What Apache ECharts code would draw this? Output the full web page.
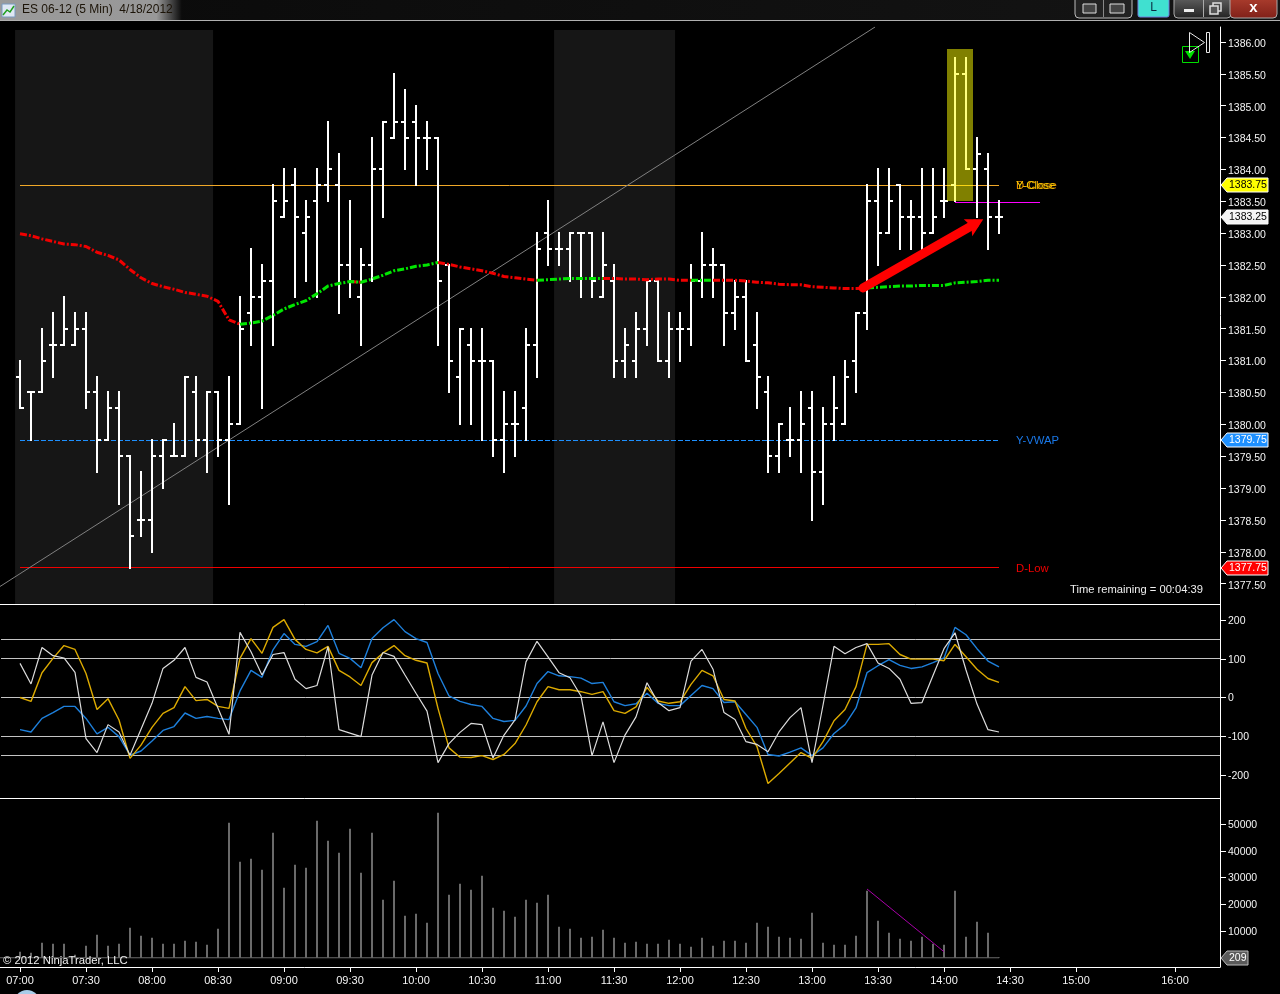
<!DOCTYPE html>
<html>
<head>
<meta charset="utf-8">
<style>html,body{margin:0;padding:0;background:#000;}#c{width:1280px;height:994px;}</style>
<script src="https://cdn.jsdelivr.net/npm/echarts@6/dist/echarts.min.js"></script>
</head>
<body>
<div id="c"></div>
<script>
const opens=[1380.75,1380.5,1380.5,1381.25,1381.25,1381.25,1381.5,1380.5,1379.75,1380.25,
1379.5,1378.5,1378.5,1379.5,1379.5,1379.5,1380.5,1379.75,1380.5,1379.75,
1380,1381.75,1382,1382.25,1383.25,1383.75,1383,1383.5,1383.75,1383.75,
1382.5,1382,1382.5,1384,1384.5,1384.75,1384.75,1384.5,1384.5,1382.5,
1380.75,1381.25,1381,1381,1379.75,1380,1380.25,1381.25,1383,1382.75,
1382.75,1383,1383,1382,1382.25,1381,1381,1381.5,1382.25,1381,
1381.5,1381.5,1382.25,1382.5,1382.5,1381.75,1382,1381.25,1380.5,1379.5,
1379.75,1379.75,1380.25,1379.25,1380,1380,1381,1381.75,1383.5,1383,
1383.75,1383.25,1383.25,1383,1383.5,1383.75,1385.5,1384,1384,1383.25];
const highs=[1381,1380.5,1381.5,1381.75,1382,1381.75,1381.75,1380.75,1380.5,1380.5,
1379.5,1379.25,1379.75,1379.75,1380,1380.75,1380.75,1380.5,1380.5,1380.75,
1382,1382.75,1382.5,1383.75,1384,1384,1383.5,1384,1384.75,1384.25,
1383.5,1382.75,1384.5,1384.75,1385.5,1385.25,1385,1384.75,1384.5,1382.5,
1381.5,1381.5,1381.5,1381,1380.5,1380.5,1381.5,1383,1383.5,1383,
1383,1383,1383,1383,1382.5,1381.5,1381.75,1382.25,1382.25,1381.75,
1381.75,1382.5,1383,1382.75,1382.5,1382.25,1382.25,1381.75,1380.75,1380,
1380.25,1380.5,1380.5,1380.25,1380.75,1381,1381.75,1383.75,1384,1384,
1383.75,1383.5,1384,1384,1384,1385.75,1385.75,1384.5,1384.25,1383.5];
const lows=[1380.25,1379.75,1380.5,1380.75,1381.25,1381.25,1380.25,1379.25,1379.75,1378.75,
1377.75,1378.25,1378,1379,1379.5,1379.5,1379.5,1379.25,1379.5,1378.75,
1380,1381.25,1380.25,1381.25,1383.25,1382,1382.25,1382,1383.5,1381.75,
1382,1381.25,1382.25,1383.25,1384.5,1384,1383.75,1384,1381.25,1380.5,
1380,1380,1379.75,1379.5,1379.25,1379.5,1379.75,1380.75,1382.5,1382.5,
1382.25,1382,1382,1382,1380.75,1380.75,1380.75,1381.25,1381,1380.75,
1381,1381.25,1382,1382,1381.25,1381.5,1381,1380.25,1379.25,1379.25,
1379.5,1379.25,1378.5,1378.75,1379.75,1380,1380.5,1381.5,1382.5,1383,
1382.75,1382.75,1382.75,1383,1383.25,1383.5,1384,1383.25,1382.75,1383];
const closes=[1380.25,1380.5,1381,1381.25,1381.5,1381.5,1380.5,1379.75,1380.25,1379.5,
1378.25,1378.5,1379.5,1379.75,1379.5,1380.75,1379.75,1380.5,1379.75,1380,
1381.5,1382,1382.25,1383.5,1383.5,1383.25,1383.25,1383.75,1384,1382.5,
1382.25,1382.5,1384,1384.75,1384.75,1384.5,1384.5,1384.5,1382.25,1381,
1381.5,1381,1381,1379.75,1380,1380,1381.25,1382.75,1382.75,1382.75,
1383,1383,1382.25,1382.5,1381,1381.25,1381.5,1382.25,1381,1381.5,
1381.5,1382.25,1382.5,1382.5,1381.75,1382,1381,1380.75,1379.5,1380,
1379.75,1380,1379.25,1380,1380.25,1380.75,1381.75,1383.5,1383,1383.5,
1383.25,1383.25,1383,1383.25,1383.5,1385.5,1384,1384.25,1383.25,1383.25];
const maValues=[1382.99,1382.96,1382.91,1382.87,1382.83,1382.82,1382.79,1382.70,1382.65,1382.58,
1382.43,1382.30,1382.21,1382.16,1382.12,1382.07,1382.04,1382.01,1381.93,1381.64,
1381.57,1381.59,1381.62,1381.71,1381.81,1381.88,1381.94,1382.05,1382.17,1382.21,
1382.24,1382.23,1382.28,1382.34,1382.41,1382.44,1382.48,1382.50,1382.54,1382.51,
1382.47,1382.44,1382.41,1382.37,1382.32,1382.30,1382.28,1382.26,1382.27,1382.28,
1382.29,1382.29,1382.29,1382.29,1382.29,1382.28,1382.28,1382.27,1382.28,1382.28,
1382.26,1382.26,1382.26,1382.26,1382.26,1382.26,1382.25,1382.23,1382.22,1382.20,
1382.19,1382.19,1382.16,1382.15,1382.14,1382.13,1382.13,1382.14,1382.15,1382.16,
1382.17,1382.17,1382.18,1382.18,1382.18,1382.22,1382.23,1382.24,1382.26,1382.26];
const maRedSpans=[[0,20],[30,31],[38,47],[53,61],[63,77]];
const maGreenSpans=[[20,30],[31,38],[47,53],[61,63],[77,89]];
const cciWhite=[88,35,129,108,102,65,-106,-142,-70,-89,
-149,-82,-15,75,96,129,52,40,-28,-95,
168,118,58,111,116,47,23,31,131,-83,
-92,-101,58,116,106,58,11,-35,-168,-119,
-90,-67,-70,-156,-97,-58,92,145,105,64,
51,4,-150,-63,-168,-97,-50,38,-13,-34,
-26,94,124,73,-39,-57,-114,-121,-140,-89,
-52,-26,-168,-20,132,113,129,139,89,75,
47,-15,-13,57,126,167,71,-17,-83,-89];
const cciYellow=[0,-10,64,101,134,124,62,-31,-3,-58,
-157,-123,-77,-41,-26,28,-8,-5,-23,-28,
101,152,114,181,201,150,124,115,132,70,
53,31,90,115,134,108,96,89,-28,-130,
-154,-155,-150,-160,-147,-119,-71,-11,28,20,
20,15,8,15,-34,-41,-24,26,-9,-15,
-11,34,70,56,-5,-9,-80,-127,-222,-196,
-169,-142,-157,-114,-60,-31,28,137,137,139,
111,99,99,99,95,137,105,73,49,39];
const cciBlue=[-83,-89,-54,-39,-23,-23,-54,-94,-77,-101,
-149,-138,-112,-85,-75,-40,-54,-49,-54,-57,
17,70,52,123,165,137,132,144,186,114,
101,77,152,180,201,170,152,142,62,4,
-10,-18,-23,-54,-62,-59,-22,36,67,56,
54,50,36,39,-11,-21,-16,11,-15,-21,
-21,5,31,23,-13,-11,-44,-77,-147,-151,
-141,-130,-150,-130,-93,-70,-27,64,82,98,
83,75,79,90,102,181,162,126,94,79];
const volumes=[2240,1870,5600,5230,5230,1120,4490,8600,4490,5230,
11200,8220,7480,5230,5230,6350,5980,4860,10840,50460,
35880,37000,32900,46725,26170,34760,33640,51200,43730,39250,
48220,31770,46725,21680,28780,15700,16450,13080,54200,23550,
27660,25420,30650,18690,17570,15330,21680,20560,23550,11590,
10840,7480,7850,10470,7480,5610,5980,5230,5230,6730,
5230,4110,7480,4490,6350,6350,5610,13080,11590,7850,
7480,7100,16820,5610,4860,4860,8220,25040,13830,9345,
7100,6350,7850,5230,4860,25040,7850,13460,9345,209];

const timeTicks=[0,6,12,18,24,30,36,42,48,54,60,66,72,78,84,90,96,105];
const timeLabels=['07:00','07:30','08:00','08:30','09:00','09:30','10:00','10:30','11:00','11:30','12:00','12:30','13:00','13:30','14:00','14:30','15:00','16:00'];
const priceTicks=[1377.5,1378,1378.5,1379,1379.5,1380,1380.5,1381,1381.5,1382,1382.5,1383,1383.5,1384,1384.5,1385,1385.5,1386];
const cciTicks=[-200,-100,0,100,200];
const volumeTicks=[10000,20000,30000,40000,50000];
const cciLevels=[150,100,0,-100,-150];

const shadeStart=[-0.45,48.55];
const shadeEnd=[17.55,59.55];
const levelRows=[
  [0,89,1383.75,'#f0a828',0],
  [0,89,1379.75,'#1e90ff',1],
  [0,89,1377.75,'#f00000',0],
  [85,92.73,1383.48,'#ff00ff',0]
];
const levelLabels=[
  [1383.75,'D-Close','#e89000'],
  [1383.75,'Y-Close','#ffd000'],
  [1379.75,'Y-VWAP','#1a78e8'],
  [1377.75,'D-Low','#f00000']
];
const priceFlags=[
  [1383.75,'1383.75','#ffff00','#000'],
  [1383.25,'1383.25','#f4f4f4','#000'],
  [1379.75,'1379.75','#1e90ff','#fff'],
  [1377.75,'1377.75','#ff0000','#fff']
];
const trendLine=[[-1.818,1377.455],[77.73,1386.235]];
const arrowFrom=[76.64,1382.14];
const arrowTo=[87.57,1383.22];
const highlightBox=[84.27,1385.89,86.64,1383.5];
const volumeSlope=[[77,25700],[84,2260]];

const TICKFONT='10.5px "Liberation Sans", Arial, sans-serif';
const X0=-20/11, X1=1200/11;
const spanSeries=(spans)=>maValues.map((v,i)=>[i,spans.some(s=>i>=s[0]&&i<=s[1])?v:null]);

function ohlcItem(p,api){
  const i=api.value(0);
  const c=api.coord([i,api.value(2)]), lo=api.coord([i,api.value(3)]);
  const o=api.coord([i,api.value(1)]), cl=api.coord([i,api.value(4)]);
  const x=Math.round(c[0]);
  const st={fill:'#fff'};
  const top=Math.round(c[1])-1, bot=Math.round(lo[1])+1;
  return {type:'group',children:[
    {type:'rect',shape:{x:x-1,y:top,width:2,height:bot-top},style:st},
    {type:'rect',shape:{x:x-4,y:Math.round(o[1])-1,width:3,height:2},style:st},
    {type:'rect',shape:{x:x+1,y:Math.round(cl[1])-1,width:3,height:2},style:st}
  ]};
}
function hLineItem(p,api){
  const row=levelRows[p.dataIndex];
  const a=api.coord([row[0],row[2]]), b=api.coord([row[1],row[2]]);
  const y=Math.floor(a[1])+0.5;
  return {type:'line',shape:{x1:a[0],y1:y,x2:b[0],y2:y},
    style:{stroke:row[3],lineWidth:1,lineDash:row[4]?[5,2]:null}};
}
function cciLineItem(p,api){
  const a=api.coord([X0,api.value(0)]);
  const y=Math.floor(a[1])+0.5;
  return {type:'line',shape:{x1:1,y1:y,x2:p.coordSys.x+p.coordSys.width,y2:y},style:{stroke:'#c4c4c4',lineWidth:1}};
}
function flagItem(p,api,rows){
  const row=rows[p.dataIndex];
  const y=Math.round(api.coord([0,row[0]])[1]);
  const x=p.coordSys.x+p.coordSys.width+1;
  const w=row[4]||47;
  return {type:'group',children:[
    {type:'polygon',shape:{points:[[x,y],[x+6,y-7],[x+w,y-7],[x+w,y+7],[x+6,y+7]]},style:{fill:row[2],stroke:row[5]||'#fff',lineWidth:1}},
    {type:'text',style:{x:x+8,y:y+0.5,text:row[1],fill:row[3],font:TICKFONT,textVerticalAlign:'middle',textAlign:'left'}}
  ]};
}

const option={
  backgroundColor:'#000',
  animation:false,
  grid:[
    {left:0,width:1220,top:27,height:577},
    {left:0,width:1220,top:604,height:194},
    {left:0,width:1220,top:798,height:169}
  ],
  xAxis:[0,1,2].map(g=>({
    type:'value',gridIndex:g,min:X0,max:X1,position:'bottom',
    axisLine:{show:true,onZero:false,lineStyle:{color:'#fff',width:1}},
    splitLine:{show:false},
    axisTick:g===2?{show:true,length:5,inside:false,customValues:timeTicks,lineStyle:{color:'#fff'}}:{show:false},
    axisLabel:g===2?{show:true,customValues:timeTicks,margin:8,color:'#f4f4f4',fontSize:11,fontFamily:'Liberation Sans',
      formatter:v=>timeLabels[timeTicks.indexOf(v)]}:{show:false}
  })),
  yAxis:[
    {min:1386-(604-42)/63.72,max:1386+(42-27)/63.72,ticks:priceTicks,fmt:v=>v.toFixed(2),lh:4},
    {min:-(798-697.5)/0.3875,max:(697.5-604)/0.3875,ticks:cciTicks,fmt:v=>String(v),lh:2},
    {min:-(967-957.75)/0.002675,max:(957.75-798)/0.002675,ticks:volumeTicks,fmt:v=>String(v),lh:2}
  ].map((a,g)=>({
    type:'value',gridIndex:g,position:'right',min:a.min,max:a.max,scale:true,
    axisLine:{show:true,onZero:false,lineStyle:{color:'#fff',width:1}},
    splitLine:{show:false},
    axisTick:{show:true,length:6,customValues:a.ticks,lineStyle:{color:'#fff'}},
    axisLabel:{show:true,customValues:a.ticks,margin:8,color:'#f4f4f4',fontSize:10.5,fontFamily:'Liberation Sans',align:'left',verticalAlign:'top',lineHeight:a.lh,formatter:a.fmt}
  })),
  series:[
    {type:'custom',name:'shade',xAxisIndex:0,yAxisIndex:0,z:1,silent:true,
     data:shadeStart.map((s,i)=>[s,shadeEnd[i]]),
     renderItem:(p,api)=>{
       const a=api.coord([api.value(0),1386.19]);
       const b=api.coord([api.value(1),1386-(604-42)/63.72]);
       return {type:'rect',shape:{x:a[0],y:a[1],width:b[0]-a[0],height:b[1]-a[1]},style:{fill:'#161616'}};
     }},
    {type:'custom',name:'levels',xAxisIndex:0,yAxisIndex:0,z:2,silent:true,
     data:levelRows.map(r=>[r[0],r[2]]),renderItem:hLineItem},
    {type:'line',name:'trend',xAxisIndex:0,yAxisIndex:0,z:2,silent:true,showSymbol:false,data:trendLine,
     lineStyle:{color:'#808080',width:1}},
    {type:'custom',name:'ES 06-12',xAxisIndex:0,yAxisIndex:0,z:3,silent:true,
     encode:{x:0,y:[1,2,3,4]},
     data:opens.map((o,i)=>[i,o,highs[i],lows[i],closes[i]]),renderItem:ohlcItem},
    {type:'custom',name:'box',xAxisIndex:0,yAxisIndex:0,z:4,silent:true,
     data:[highlightBox],
     renderItem:(p,api)=>{
       const a=api.coord([api.value(0),api.value(1)]), b=api.coord([api.value(2),api.value(3)]);
       return {type:'rect',shape:{x:Math.round(a[0]),y:Math.round(a[1]),width:Math.round(b[0]-a[0]),height:Math.round(b[1]-a[1])},style:{fill:'rgba(255,255,0,0.5)'}};
     }},
    {type:'line',name:'MA down',xAxisIndex:0,yAxisIndex:0,z:5,silent:true,showSymbol:false,data:spanSeries(maRedSpans),
     lineStyle:{color:'#f00000',width:3,type:[7,2,2,2]}},
    {type:'line',name:'MA up',xAxisIndex:0,yAxisIndex:0,z:5,silent:true,showSymbol:false,data:spanSeries(maGreenSpans),
     lineStyle:{color:'#00e600',width:3,type:[7,2,2,2]}},
    {type:'custom',name:'arrow',xAxisIndex:0,yAxisIndex:0,z:6,silent:true,
     data:[[arrowFrom[0],arrowFrom[1],arrowTo[0],arrowTo[1]]],
     renderItem:(p,api)=>{
       const a=api.coord([api.value(0),api.value(1)]), b=api.coord([api.value(2),api.value(3)]);
       const dx=b[0]-a[0],dy=b[1]-a[1],L=Math.hypot(dx,dy),ux=dx/L,uy=dy/L;
       const nx=b[0]-ux*10,ny=b[1]-uy*10;
       return {type:'group',children:[
         {type:'line',shape:{x1:a[0],y1:a[1],x2:nx,y2:ny},style:{stroke:'#ff0000',lineWidth:9,lineCap:'round'}},
         {type:'polygon',shape:{points:[b,[b[0]-19.5,b[1]],[nx-ux*4,ny-uy*4],[b[0]-11,b[1]+17]]},style:{fill:'#ff0000'}}
       ]};
     }},
    {type:'custom',name:'labels',xAxisIndex:0,yAxisIndex:0,z:7,silent:true,
     data:levelLabels.map(r=>[90.55,r[0]]),
     renderItem:(p,api)=>{
       const r=levelLabels[p.dataIndex];
       const c=api.coord([api.value(0),api.value(1)]);
       return {type:'text',style:{x:c[0],y:c[1]+1,text:r[1],fill:r[2],font:'11.3px "Liberation Sans", Arial, sans-serif',textVerticalAlign:'middle'}};
     }},
    {type:'custom',name:'flags',xAxisIndex:0,yAxisIndex:0,z:8,silent:true,
     data:priceFlags.map(r=>[0,r[0]]),renderItem:(p,api)=>flagItem(p,api,priceFlags)},

    {type:'custom',name:'cciLines',xAxisIndex:1,yAxisIndex:1,z:2,silent:true,
     data:cciLevels.map(v=>[v]),encode:{y:0},renderItem:cciLineItem},
    {type:'line',name:'CCI blue',xAxisIndex:1,yAxisIndex:1,z:3,silent:true,showSymbol:false,data:cciBlue.map((v,i)=>[i,v]),
     lineStyle:{color:'#1e80dc',width:1.4}},
    {type:'line',name:'CCI yellow',xAxisIndex:1,yAxisIndex:1,z:4,silent:true,showSymbol:false,data:cciYellow.map((v,i)=>[i,v]),
     lineStyle:{color:'#dcaa00',width:1.4}},
    {type:'line',name:'CCI white',xAxisIndex:1,yAxisIndex:1,z:5,silent:true,showSymbol:false,data:cciWhite.map((v,i)=>[i,v]),
     lineStyle:{color:'#dcdcdc',width:1.2}},

    {type:'bar',name:'Volume',xAxisIndex:2,yAxisIndex:2,z:3,silent:true,barWidth:2,data:volumes.map((v,i)=>[i,v]),
     itemStyle:{color:'#6a6a6a'}},
    {type:'line',name:'volBase',xAxisIndex:2,yAxisIndex:2,z:2,silent:true,showSymbol:false,data:[[X0,0],[89,0]],
     lineStyle:{color:'#6a6a6a',width:1}},
    {type:'line',name:'volSlope',xAxisIndex:2,yAxisIndex:2,z:4,silent:true,showSymbol:false,data:volumeSlope,
     lineStyle:{color:'#a800a8',width:1}},
    {type:'custom',name:'volFlag',xAxisIndex:2,yAxisIndex:2,z:8,silent:true,
     data:[[0,volumes[89]]],
     renderItem:(p,api)=>flagItem(p,api,[[0,String(volumes[89]),'#5a5a5a','#fff',27,'#bbb']])}
  ],
  graphic:{elements:[
    {type:'rect',z:100,shape:{x:0,y:0,width:1280,height:20},style:{fill:new echarts.graphic.LinearGradient(0,0,1,0,[{offset:0,color:'#0a0a0a'},{offset:1,color:'#141414'}])}},
    {type:'rect',z:101,shape:{x:0,y:0,width:182,height:20},style:{fill:new echarts.graphic.LinearGradient(0,0,1,0,[{offset:0,color:'#9a9a9a'},{offset:0.86,color:'#989898'},{offset:1,color:'#0a0a0a'}])}},
    {type:'rect',z:102,shape:{x:2,y:4,width:13,height:13},style:{fill:'#dfe8f4',stroke:'#7a9ac0',lineWidth:1}},
    {type:'polyline',z:103,shape:{points:[[3,15],[7,10],[10,12],[14,6]]},style:{stroke:'#20a020',lineWidth:1.5,fill:'none'}},
    {type:'text',z:103,style:{x:22,y:10,text:'ES 06-12 (5 Min)  4/18/2012',fill:'#1c1408',font:'12px "Liberation Sans", sans-serif',textVerticalAlign:'middle'}},
    {type:'line',z:103,shape:{x1:0,y1:20.5,x2:1280,y2:20.5},style:{stroke:'#b0b0b0',lineWidth:1}},

    {type:'rect',z:103,shape:{x:1075,y:-4,width:57,height:22,r:4},style:{fill:'#222',stroke:'#bbb',lineWidth:1}},
    {type:'line',z:104,shape:{x1:1103.5,y1:0,x2:1103.5,y2:17},style:{stroke:'#888',lineWidth:1}},
    {type:'rect',z:104,shape:{x:1083,y:4,width:13,height:9},style:{fill:'#444',stroke:'#ddd',lineWidth:1}},
    {type:'rect',z:104,shape:{x:1110,y:4,width:14,height:9},style:{fill:'#444',stroke:'#ddd',lineWidth:1}},
    {type:'rect',z:103,shape:{x:1138,y:-4,width:31,height:21,r:2},style:{fill:'#40e0d0',stroke:'#7080e0',lineWidth:1}},
    {type:'text',z:104,style:{x:1153.5,y:8,text:'L',fill:'#0a2a40',font:'12px "Liberation Sans"',textAlign:'center',textVerticalAlign:'middle'}},
    {type:'rect',z:103,shape:{x:1174,y:-4,width:57,height:22,r:4},style:{fill:new echarts.graphic.LinearGradient(0,0,0,1,[{offset:0,color:'#666'},{offset:1,color:'#222'}]),stroke:'#aaa',lineWidth:1}},
    {type:'rect',z:104,shape:{x:1230,y:-4,width:47,height:22,r:4},style:{fill:new echarts.graphic.LinearGradient(0,0,0,1,[{offset:0,color:'#b04030'},{offset:1,color:'#802018'}]),stroke:'#aaa',lineWidth:1}},
    {type:'line',z:105,shape:{x1:1203.5,y1:0,x2:1203.5,y2:17},style:{stroke:'#aaa',lineWidth:1}},
    {type:'rect',z:105,shape:{x:1184,y:9,width:10,height:3},style:{fill:'#eee'}},
    {type:'rect',z:105,shape:{x:1213,y:3,width:8,height:8},style:{fill:'none',stroke:'#ddd',lineWidth:1.5}},
    {type:'rect',z:105,shape:{x:1210,y:6,width:8,height:8},style:{fill:'#555',stroke:'#ddd',lineWidth:1.5}},
    {type:'text',z:105,style:{x:1253.5,y:8,text:'x',fill:'#fff',font:'bold 15px "Liberation Sans"',textAlign:'center',textVerticalAlign:'middle'}},

    {type:'rect',z:50,shape:{x:1182.5,y:46.5,width:16,height:16},style:{fill:'none',stroke:'#00e000',lineWidth:1}},
    {type:'polygon',z:51,shape:{points:[[1185,51],[1195,51],[1190,59]]},style:{fill:'#00e000'}},
    {type:'polygon',z:52,shape:{points:[[1189.5,32.5],[1204.5,42.5],[1189.5,52.5]]},style:{fill:'none',stroke:'#e8e8e8',lineWidth:1}},
    {type:'rect',z:52,shape:{x:1206.5,y:32.5,width:3,height:20},style:{fill:'none',stroke:'#e8e8e8',lineWidth:1}},

    {type:'text',z:52,style:{x:1070,y:590,text:'Time remaining = 00:04:39',fill:'#f0f0f0',font:'11.2px "Liberation Sans", Arial, sans-serif',textVerticalAlign:'middle'}},
    {type:'text',z:52,style:{x:3,y:961,text:'\u00a9 2012 NinjaTrader, LLC',fill:'#f0f0f0',font:'11.3px "Liberation Sans", Arial, sans-serif',textVerticalAlign:'middle'}},
    {type:'circle',z:52,shape:{cx:27,cy:1003,r:13},style:{fill:'#a8cce8'}}
  ]}
};
const chart=echarts.init(document.getElementById('c'),null,{renderer:'canvas',width:1280,height:994});
chart.setOption(option);
</script>
</body>
</html>
